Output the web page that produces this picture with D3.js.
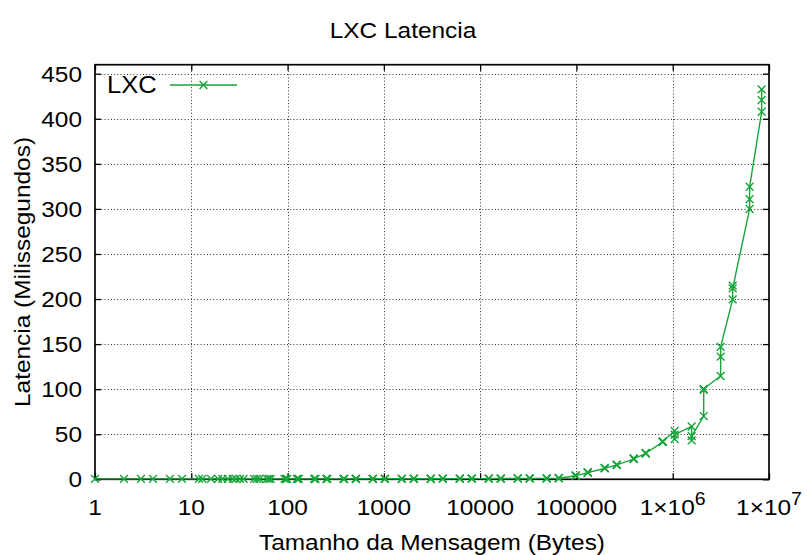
<!DOCTYPE html>
<html>
<head>
<meta charset="utf-8">
<script src="https://cdn.jsdelivr.net/npm/d3@7/dist/d3.min.js"></script>
<style>
  html, body { margin: 0; padding: 0; background: #fff; }
  svg { display: block; }
  text { font-family: "Liberation Sans", Arial, Helvetica, sans-serif; fill: #000; }
</style>
</head>
<body>
<div id="chart"></div>
<script>
// NetPIPE message sizes (bytes), perturbation +-3 around each step
const messageSizes = [
  1, 2, 3, 4, 6, 8, 12, 13, 16, 19, 21, 24, 27, 29, 32, 35, 45, 48, 51, 61, 64, 67,
  93, 96, 99, 125, 128, 131, 189, 192, 195, 253, 256, 259, 381, 384, 387, 509, 512, 515,
  765, 768, 771, 1021, 1024, 1027, 1533, 1536, 1539, 2045, 2048, 2051, 3069, 3072, 3075,
  4093, 4096, 4099, 6141, 6144, 6147, 8189, 8192, 8195, 12285, 12288, 12291,
  16381, 16384, 16387, 24573, 24576, 24579, 32765, 32768, 32771, 49149, 49152, 49155,
  65533, 65536, 65539, 98301, 98304, 98307, 131069, 131072, 131075,
  196605, 196608, 196611, 262141, 262144, 262147, 393213, 393216, 393219,
  524285, 524288, 524291, 786429, 786432, 786435, 1048573, 1048576, 1048579,
  1572861, 1572864, 1572867, 2097149, 2097152, 2097155, 3145725, 3145728, 3145731,
  4194301, 4194304, 4194307, 6291453, 6291456, 6291459, 8388605, 8388608, 8388611
];

// LXC latency (milliseconds) for each message size
const lxcLatency = [
  0.45, 0.45, 0.45, 0.45, 0.45, 0.45, 0.46, 0.46, 0.46, 0.46, 0.46, 0.46, 0.46, 0.46, 0.46, 0.46,
  0.47, 0.47, 0.47, 0.47, 0.47, 0.47,
  0.48, 0.48, 0.48, 0.48, 0.48, 0.48, 0.49, 0.49, 0.49, 0.50, 0.50, 0.50, 0.51, 0.51, 0.51,
  0.52, 0.52, 0.52, 0.54, 0.54, 0.54, 0.56, 0.56, 0.56, 0.58, 0.58, 0.58, 0.60, 0.60, 0.60,
  0.63, 0.63, 0.63, 0.66, 0.66, 0.66, 0.70, 0.70, 0.70, 0.74, 0.74, 0.74, 0.80, 0.80, 0.80,
  0.85, 0.85, 0.85, 0.92, 0.92, 0.92, 0.98, 0.98, 0.98, 1.05, 1.05, 1.05,
  1.2, 1.2, 1.2, 3.9, 4.4, 4.1, 7.3, 7.8, 7.5,
  12.1, 12.6, 12.3, 15.7, 16.3, 16.0, 22.4, 23.1, 22.8,
  28.6, 29.3, 28.9, 41.3, 42.1, 41.7, 53.8, 44.6, 49.6,
  58.6, 43.1, 47.9, 70.2, 99.3, 100.4, 114.6, 136.1, 147.0,
  199.7, 214.8, 211.9, 299.9, 310.7, 324.6, 407.8, 420.8, 432.7
];

const xTickValues = [1, 10, 100, 1000, 10000, 100000, 1e6, 1e7];
const xTickLabels = ["1", "10", "100", "1000", "10000", "100000", "1×10^6", "1×10^7"];
const yTickValues = [0, 50, 100, 150, 200, 250, 300, 350, 400, 450];
const yTickLabels = ["0", "50", "100", "150", "200", "250", "300", "350", "400", "450"];

const seriesName = "LXC";
const chartTitle = "LXC Latencia";
const xAxisTitle = "Tamanho da Mensagem (Bytes)";
const yAxisTitle = "Latencia (Milissegundos)";

const W = 807, H = 555;
const plot = { left: 95, right: 769, top: 64.7, bottom: 479.3 };
const FONT = 22;       // px
const STRETCH = 1.11;  // horizontal widening of the lettering
const GREEN = "#17a53a";

const svg = d3.select("#chart").append("svg")
  .attr("width", W).attr("height", H)
  .attr("viewBox", `0 0 ${W} ${H}`);

const x = d3.scaleLog().domain([1, 1e7]).range([plot.left, plot.right]);
const y = d3.scaleLinear().domain([0, 460]).range([plot.bottom, plot.top]);

// text helper: wide lettering, optional rotation, "^" starts a superscript
function label(g, px, py, str, anchor, opts = {}) {
  const size = opts.size || FONT;
  const t = g.append("text")
    .attr("transform", `translate(${px},${py})` + (opts.rotate ? ` rotate(${opts.rotate})` : "") + ` scale(${STRETCH},1)`)
    .attr("text-anchor", anchor)
    .attr("font-size", size);
  if (opts.dy) t.attr("dy", opts.dy);
  const m = str.match(/^(.*)\^(.*)$/);
  if (m) {
    t.append("tspan").text(m[1]);
    t.append("tspan").attr("dy", -0.45 * size).attr("font-size", 0.8 * size).text(m[2]);
  } else {
    t.text(str);
  }
  return t;
}

// grid
const grid = svg.append("g").attr("stroke", "#333").attr("stroke-width", 1)
  .attr("stroke-dasharray", "1,2.2").attr("fill", "none");
grid.selectAll("line.gx").data(xTickValues.slice(1, -1)).join("line")
  .attr("x1", d => Math.round(x(d)) + 0.5).attr("x2", d => Math.round(x(d)) + 0.5)
  .attr("y1", plot.top).attr("y2", plot.bottom);
grid.selectAll("line.gy").data(yTickValues.slice(1)).join("line")
  .attr("y1", d => Math.round(y(d)) + 0.5).attr("y2", d => Math.round(y(d)) + 0.5)
  .attr("x1", plot.left).attr("x2", plot.right);

// inward tick marks on all four sides
const tick = 6;
const axisStyle = g => { g.select(".domain").remove(); g.selectAll("line").attr("stroke", "#000").attr("stroke-width", 1.3); g.selectAll("text").remove(); };
svg.append("g").attr("transform", `translate(0,${plot.bottom})`)
  .call(d3.axisBottom(x).tickValues(xTickValues).tickSize(-tick).tickFormat("")).call(axisStyle);
svg.append("g").attr("transform", `translate(0,${plot.top})`)
  .call(d3.axisTop(x).tickValues(xTickValues).tickSize(-tick).tickFormat("")).call(axisStyle);
svg.append("g").attr("transform", `translate(${plot.left},0)`)
  .call(d3.axisLeft(y).tickValues(yTickValues).tickSize(-tick).tickFormat("")).call(axisStyle);
svg.append("g").attr("transform", `translate(${plot.right},0)`)
  .call(d3.axisRight(y).tickValues(yTickValues).tickSize(-tick).tickFormat("")).call(axisStyle);

// frame
svg.append("rect")
  .attr("x", plot.left).attr("y", plot.top)
  .attr("width", plot.right - plot.left).attr("height", plot.bottom - plot.top)
  .attr("fill", "none").attr("stroke", "#000").attr("stroke-width", 1.7);

// tick labels
const labels = svg.append("g");
xTickValues.forEach((v, i) => label(labels, x(v), 515, xTickLabels[i], "middle"));
yTickValues.forEach((v, i) => label(labels, plot.left - 13, y(v), yTickLabels[i], "end", { dy: "0.36em" }));

// titles
label(svg, (plot.left + plot.right) / 2 - 29, 38, chartTitle, "middle");
label(svg, (plot.left + plot.right) / 2, 550, xAxisTitle, "middle");
label(svg, 30, (plot.top + plot.bottom) / 2, yAxisTitle, "middle", { rotate: -90 });

// series
const data = messageSizes.map((s, i) => ({ s, v: lxcLatency[i] }));
const line = d3.line().x(d => x(d.s)).y(d => y(d.v));
const marker = (g, cx, cy) => {
  const r = 3.9;
  g.append("path").attr("d", `M${cx - r},${cy - r}L${cx + r},${cy + r}M${cx - r},${cy + r}L${cx + r},${cy - r}`);
};

const series = svg.append("g").attr("stroke", GREEN).attr("fill", "none").attr("stroke-width", 1.4);
series.append("path").datum(data).attr("d", line);
const marks = series.append("g");
data.forEach(d => marker(marks, x(d.s), y(d.v)));

// legend
const leg = svg.append("g");
label(leg, 107, 85, seriesName, "start", { dy: "0.36em", size: 23 });
const lg = leg.append("g").attr("stroke", GREEN).attr("fill", "none").attr("stroke-width", 1.4);
lg.append("line").attr("x1", 170).attr("x2", 237).attr("y1", 85).attr("y2", 85);
marker(lg, 203.5, 85);
</script>
</body>
</html>
